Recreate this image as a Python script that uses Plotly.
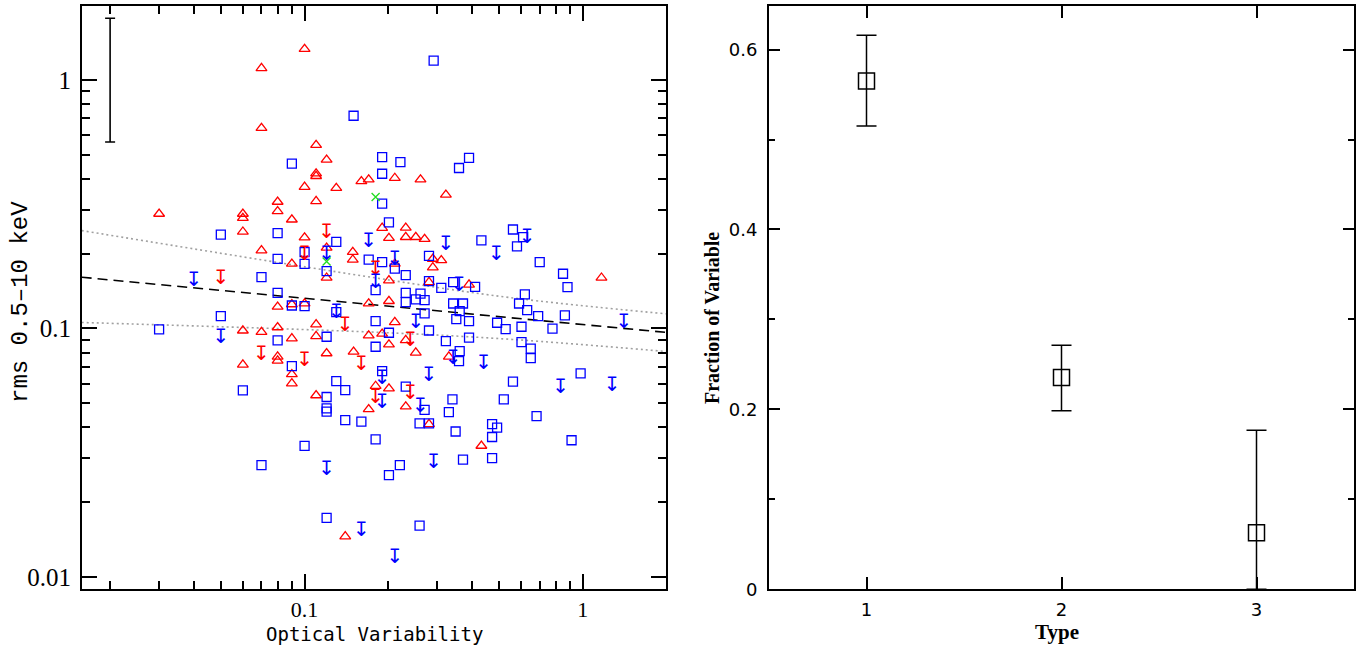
import plotly.graph_objects as go

# ---------------- Left panel data ----------------
# blue squares
sq_x = [0.150, 0.090, 0.050, 0.080, 0.130, 0.080, 0.100, 0.100, 0.120, 0.170, 0.070, 0.080, 0.180,
        0.291, 0.190, 0.190, 0.221, 0.190, 0.359, 0.390, 0.201, 0.432, 0.561, 0.580, 0.610, 0.700,
        0.849, 0.881, 0.280, 0.190, 0.211, 0.231, 0.280, 0.310, 0.342, 0.410, 0.619, 0.231,
        0.030, 0.050, 0.090, 0.100, 0.130, 0.180, 0.080, 0.120, 0.180, 0.090, 0.060, 0.130, 0.140,
        0.120, 0.120, 0.120, 0.140, 0.160, 0.180, 0.100, 0.070, 0.120,
        0.231, 0.251, 0.261, 0.270, 0.270, 0.342, 0.371, 0.361, 0.351, 0.390, 0.280, 0.322, 0.390,
        0.361, 0.359, 0.590, 0.631, 0.691, 0.862, 0.492, 0.528, 0.602, 0.778, 0.602, 0.650, 0.650,
        0.201, 0.190, 0.231, 0.340, 0.330, 0.270, 0.259, 0.280, 0.349, 0.520, 0.561, 0.682, 0.472,
        0.492, 0.472, 0.472, 0.371, 0.982, 0.911, 0.220, 0.201, 0.259]
sq_y = [0.717, 0.460, 0.2385, 0.242, 0.223, 0.1905, 0.203, 0.182, 0.170, 0.189, 0.161, 0.139, 0.1426,
        1.195, 0.489, 0.419, 0.467, 0.318, 0.442, 0.485, 0.267, 0.226, 0.250, 0.214, 0.233, 0.185,
        0.166, 0.1465, 0.196, 0.185, 0.174, 0.164, 0.155, 0.1457, 0.1535, 0.147, 0.137, 0.139,
        0.0991, 0.112, 0.1237, 0.123, 0.1163, 0.107, 0.0895, 0.0926, 0.0844, 0.0706, 0.0564, 0.0614, 0.0565,
        0.053, 0.0477, 0.0463, 0.0428, 0.0422, 0.0358, 0.0337, 0.0282, 0.0173,
        0.1275, 0.131, 0.138, 0.130, 0.115, 0.126, 0.126, 0.1174, 0.109, 0.107, 0.0981, 0.0889, 0.0918,
        0.081, 0.0739, 0.126, 0.1184, 0.112, 0.1129, 0.1054, 0.0994, 0.1016, 0.0998, 0.0881, 0.0829, 0.076,
        0.0961, 0.0674, 0.0583, 0.0518, 0.0461, 0.047, 0.0415, 0.0415, 0.0385, 0.0518, 0.0611, 0.0444, 0.0412,
        0.0399, 0.0366, 0.0301, 0.0297, 0.0660, 0.0355, 0.0282, 0.0257, 0.0161]

# red triangles
tri_x = [0.100, 0.070, 0.070, 0.110, 0.120, 0.110, 0.110, 0.100, 0.130, 0.160, 0.170, 0.110, 0.030,
         0.060, 0.060, 0.080, 0.080, 0.090, 0.060, 0.070, 0.100, 0.090, 0.149, 0.149, 0.120, 0.120,
         0.211, 0.261, 0.322, 0.190, 0.231, 0.201, 0.231, 0.251, 0.270, 0.289, 0.289, 0.310, 0.211,
         0.201, 0.280, 0.390, 1.167,
         0.080, 0.090, 0.100, 0.170, 0.060, 0.070, 0.080, 0.090, 0.110, 0.110, 0.170, 0.060, 0.080,
         0.080, 0.090, 0.090, 0.120, 0.150, 0.110, 0.170, 0.180, 0.140,
         0.201, 0.211, 0.190, 0.201, 0.231, 0.251, 0.330, 0.201, 0.231, 0.280, 0.432]
tri_y = [1.33, 1.114, 0.640, 0.547, 0.477, 0.42, 0.41, 0.371, 0.367, 0.391, 0.397, 0.325, 0.289,
         0.289, 0.278, 0.323, 0.296, 0.274, 0.245, 0.206, 0.232, 0.182, 0.203, 0.189, 0.160, 0.211,
         0.403, 0.397, 0.345, 0.2537, 0.254, 0.231, 0.233, 0.233, 0.229, 0.1905, 0.176, 0.188, 0.182,
         0.156, 0.1535, 0.150, 0.160,
         0.1222, 0.125, 0.126, 0.126, 0.098, 0.0967, 0.101, 0.0912, 0.1038, 0.0931, 0.0937, 0.0715, 0.0770,
         0.0742, 0.0654, 0.0601, 0.0794, 0.0806, 0.0538, 0.0473, 0.0587, 0.01457,
         0.1288, 0.106, 0.0952, 0.0862, 0.0897, 0.0799, 0.077, 0.0573, 0.0485, 0.0412, 0.0337]

# blue upper limits
bl_x = [0.040, 0.120, 0.170, 0.180, 0.322, 0.489, 0.631, 0.211, 0.359, 0.130, 0.050, 0.120, 0.160,
        0.251, 0.342, 0.280, 0.440, 0.190, 0.261, 0.832, 1.274, 1.404, 0.291, 0.211, 0.190]
bl_y = [0.170, 0.217, 0.245, 0.1675, 0.2385, 0.217, 0.2537, 0.206, 0.163, 0.127, 0.100, 0.0297, 0.0168,
        0.1156, 0.0823, 0.0706, 0.0791, 0.0552, 0.0532, 0.0634, 0.0643, 0.1156, 0.0315, 0.0131, 0.0684]

# red upper limits
rl_x = [0.120, 0.100, 0.050, 0.180, 0.140, 0.070, 0.100, 0.160, 0.180, 0.240, 0.240]
rl_y = [0.266, 0.217, 0.174, 0.189, 0.112, 0.0855, 0.081, 0.078, 0.0578, 0.0596, 0.0975]

# green crosses
gx_x = [0.120, 0.180]
gx_y = [0.186, 0.338]

# fit line and its band
fit_x = [0.0158, 1.99]
fit_y = [0.1607, 0.0964]
band_up_x = [0.0158, 0.176, 0.546, 1.99]
band_up_y = [0.2476, 0.1603, 0.1331, 0.1145]
band_lo_x = [0.0158, 0.186, 0.560, 1.99]
band_lo_y = [0.1057, 0.0964, 0.0903, 0.0808]

# representative error bar
eb_x = [0.02]
eb_y = [1.0]
eb_up = [0.77]
eb_dn = [0.438]

# ---------------- Right panel data ----------------
types = [1, 2, 3]
frac = [0.565, 0.2354, 0.0629]
frac_up = [0.051, 0.036, 0.114]
frac_dn = [0.050, 0.037, 0.0629]

RED = '#ff0000'
BLUE = '#0000ff'
GREEN = '#22dd22'
W, H = 1360, 656

fig = go.Figure()

fig.add_trace(go.Scatter(x=band_up_x, y=band_up_y, mode='lines', line=dict(color='#a0a0a0', width=1.6, dash='2px,3px', shape='spline'), xaxis='x', yaxis='y'))
fig.add_trace(go.Scatter(x=band_lo_x, y=band_lo_y, mode='lines', line=dict(color='#a0a0a0', width=1.6, dash='2px,3px', shape='spline'), xaxis='x', yaxis='y'))
fig.add_trace(go.Scatter(x=fit_x, y=fit_y, mode='lines', line=dict(color='black', width=1.6, dash='10px,6px'), xaxis='x', yaxis='y'))

fig.add_trace(go.Scatter(x=eb_x, y=eb_y, mode='markers', marker=dict(size=1, color='rgba(0,0,0,0)'),
                         error_y=dict(type='data', symmetric=False, array=eb_up, arrayminus=eb_dn,
                                      color='black', thickness=1.6, width=5), xaxis='x', yaxis='y'))

fig.add_trace(go.Scatter(x=tri_x, y=tri_y, mode='markers',
                         marker=dict(symbol='triangle-up-open', size=9.5, color=RED, line=dict(width=1.3, color=RED)),
                         xaxis='x', yaxis='y'))
fig.add_trace(go.Scatter(x=sq_x, y=sq_y, mode='markers',
                         marker=dict(symbol='square-open', size=9, color=BLUE, line=dict(width=1.3, color=BLUE)),
                         xaxis='x', yaxis='y'))
fig.add_trace(go.Scatter(x=rl_x, y=rl_y, mode='text', text=['↧'] * len(rl_x), textposition='bottom center',
                         textfont=dict(family='DejaVu Sans', size=20, color=RED), xaxis='x', yaxis='y'))
fig.add_trace(go.Scatter(x=bl_x, y=bl_y, mode='text', text=['↧'] * len(bl_x), textposition='bottom center',
                         textfont=dict(family='DejaVu Sans', size=20, color=BLUE), xaxis='x', yaxis='y'))
fig.add_trace(go.Scatter(x=gx_x, y=gx_y, mode='markers',
                         marker=dict(symbol='x-thin-open', size=8, color=GREEN, line=dict(width=1.3, color=GREEN)),
                         xaxis='x', yaxis='y'))

fig.add_trace(go.Scatter(x=types, y=frac, mode='markers',
                         marker=dict(symbol='square-open', size=16, color='black', line=dict(width=1.5, color='black')),
                         error_y=dict(type='data', symmetric=False, array=frac_up, arrayminus=frac_dn,
                                      color='black', thickness=1.5, width=10),
                         xaxis='x2', yaxis='y2'))

minor_log = [m * 10 ** e for e in (-2, -1) for m in range(2, 10)]
serif = 'Liberation Serif'
tickfont_left_y = dict(family=serif, size=25, color='black')
tickfont_left_x = dict(family=serif, size=22, color='black')
tickfont_right = dict(family='DejaVu Sans', size=18, color='black')

common = dict(showline=True, linewidth=2, linecolor='black', mirror='allticks', ticks='inside',
              tickcolor='black', tickwidth=1.5, showgrid=False, zeroline=False, automargin=False)


def px_x(p):
    return p / W


def px_y(p):
    return 1 - p / H


fig.update_layout(
    width=W, height=H,
    margin=dict(l=0, r=0, t=0, b=0, autoexpand=False),
    paper_bgcolor='white', plot_bgcolor='white',
    showlegend=False,
    xaxis=dict(type='log', range=[-1.80, 0.299], domain=[px_x(82), px_x(666)], anchor='y',
               tickvals=[0.01, 0.1, 1], ticktext=['0.01', '0.1', '1'], ticklen=15, tickfont=tickfont_left_x,
               ticklabelstandoff=0,
               minor=dict(ticks='inside', ticklen=8, tickwidth=1.5, tickcolor='black', tickvals=minor_log),
               **common),
    yaxis=dict(type='log', range=[-2.048, 0.297], domain=[px_y(589), px_y(6)], anchor='x',
               tickvals=[0.01, 0.1, 1], ticktext=['0.01', '0.1', '1'], ticklen=15, tickfont=tickfont_left_y,
               ticklabelstandoff=4,
               minor=dict(ticks='inside', ticklen=8, tickwidth=1.5, tickcolor='black', tickvals=minor_log),
               **common),
    xaxis2=dict(range=[0.5, 3.5], domain=[px_x(769), px_x(1354)], anchor='y2',
                tickvals=[1, 2, 3], ticktext=['1', '2', '3'], ticklen=12, tickfont=tickfont_right,
                ticklabelstandoff=3,
                **common),
    yaxis2=dict(range=[0, 0.649], domain=[px_y(589.3), px_y(5.5)], anchor='x2',
                tickvals=[0, 0.2, 0.4, 0.6], ticktext=['0', '0.2', '0.4', '0.6'], ticklen=11, tickfont=tickfont_right,
                ticklabelstandoff=6,
                minor=dict(ticks='inside', ticklen=6, tickwidth=1.5, tickcolor='black', tickvals=[0.1, 0.3, 0.5]),
                **common),
    annotations=[
        dict(text='Optical Variability', x=px_x(374), y=px_y(634), xref='paper', yref='paper',
             xanchor='center', yanchor='middle',
             showarrow=False, font=dict(family='DejaVu Sans Mono', size=19, color='black')),
        dict(text='rms 0.5–10 keV', x=px_x(20), y=px_y(302), xref='paper', yref='paper', textangle=-90,
             xanchor='center', yanchor='middle',
             showarrow=False, font=dict(family='Liberation Mono', size=24, color='black')),
        dict(text='<b>Fraction of Variable</b>', x=px_x(712), y=px_y(318), xref='paper', yref='paper',
             xanchor='center', yanchor='middle',
             textangle=-90, showarrow=False, font=dict(family=serif, size=20, color='black')),
        dict(text='<b>Type</b>', x=px_x(1057), y=px_y(632), xref='paper', yref='paper',
             xanchor='center', yanchor='middle',
             showarrow=False, font=dict(family=serif, size=21, color='black')),
    ],
)

fig.write_html('out.html')
